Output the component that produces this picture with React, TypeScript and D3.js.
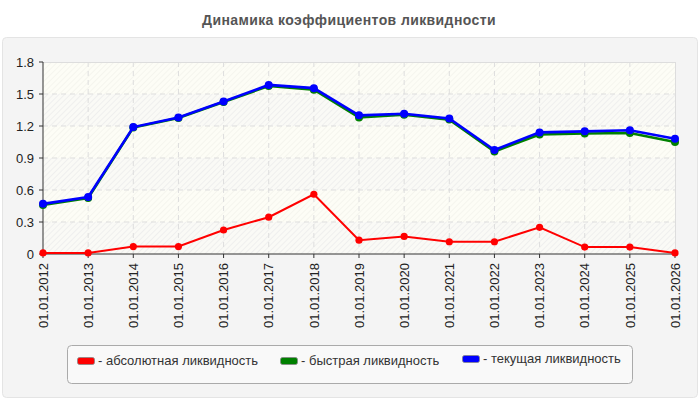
import * as d3 from "d3"

const years = [
  "01.01.2012", "01.01.2013", "01.01.2014", "01.01.2015", "01.01.2016",
  "01.01.2017", "01.01.2018", "01.01.2019", "01.01.2020", "01.01.2021",
  "01.01.2022", "01.01.2023", "01.01.2024", "01.01.2025", "01.01.2026",
]
const absolute = [0.01, 0.01, 0.07, 0.07, 0.225, 0.345, 0.56, 0.13, 0.165, 0.115, 0.115, 0.25, 0.065, 0.065, 0.01]
const quick = [0.46, 0.525, 1.185, 1.275, 1.425, 1.575, 1.54, 1.28, 1.305, 1.26, 0.96, 1.12, 1.13, 1.135, 1.05]
const current = [0.47, 0.535, 1.19, 1.28, 1.43, 1.585, 1.555, 1.3, 1.315, 1.27, 0.975, 1.14, 1.15, 1.16, 1.08]
const yTicks = [0, 0.3, 0.6, 0.9, 1.2, 1.5, 1.8]
const yTickLabels = ["0", "0.3", "0.6", "0.9", "1.2", "1.5", "1.8"]

const series = [
  { name: "- абсолютная ликвидность", values: absolute, color: "#ff0000", width: 2, r: 3.6 },
  { name: "- быстрая ликвидность", values: quick, color: "#008000", width: 2.6, r: 4 },
  { name: "- текущая ликвидность", values: current, color: "#0000ff", width: 2.6, r: 4 },
]

const W = 700
const H = 400
const margin = { left: 43, right: 675, top: 62, bottom: 254 }
const font = "'Liberation Sans', Arial, sans-serif"

export default function App() {
  const x = d3.scalePoint<string>().domain(years).range([margin.left, margin.right])
  const y = d3.scaleLinear().domain([0, 1.8]).range([margin.bottom, margin.top])
  const line = d3
    .line<number>()
    .x((_, i) => x(years[i])!)
    .y((d) => y(d))

  const bands = d3.pairs(yTicks)

  // legend item positions (swatch left edge)
  const legendX = [77, 280, 462]
  const legendY = [357, 357, 355]

  return (
    <div style={{ position: "absolute", left: 0, top: 0 }}>
      <svg width={W} height={H} style={{ display: "block", fontFamily: font }}>
        <defs>
          <pattern id="hatchA" width="4" height="4" patternUnits="userSpaceOnUse" patternTransform="rotate(45)">
            <rect width="4" height="4" fill="#fdfdf6" />
            <line x1="0" y1="0" x2="0" y2="4" stroke="#f1f1ea" strokeWidth="1.2" />
          </pattern>
          <pattern id="hatchB" width="4" height="4" patternUnits="userSpaceOnUse" patternTransform="rotate(45)">
            <rect width="4" height="4" fill="#fafaf6" />
            <line x1="0" y1="0" x2="0" y2="4" stroke="#e9e9e9" strokeWidth="1.2" />
          </pattern>
        </defs>
        <rect x={0} y={0} width={W} height={H} fill="#ffffff" />
        <text x={349} y={25} textAnchor="middle" fontSize={14} letterSpacing={0.4} fontWeight="bold" fill="#555555">
          Динамика коэффициентов ликвидности
        </text>
        <rect x={2.5} y={37.5} width={695} height={360} rx={4} fill="#f4f4f4" stroke="#e4e4e4" />

        {/* plot background bands */}
        {bands.map(([a, b], i) => (
          <rect
            key={i}
            x={margin.left}
            y={y(b)}
            width={margin.right - margin.left}
            height={y(a) - y(b)}
            fill={i % 2 === 0 ? "url(#hatchB)" : "url(#hatchA)"}
          />
        ))}

        {/* grid */}
        {yTicks.slice(1, -1).map((t) => (
          <line key={t} x1={margin.left} x2={margin.right} y1={y(t)} y2={y(t)} stroke="#dddddd" strokeDasharray="5,4" />
        ))}
        {years.slice(1, -1).map((yr) => (
          <line key={yr} x1={x(yr)} x2={x(yr)} y1={margin.top} y2={margin.bottom} stroke="#dddddd" strokeDasharray="5,4" />
        ))}
        <line x1={margin.left} x2={margin.right} y1={margin.top + 0.5} y2={margin.top + 0.5} stroke="#dddddd" />
        <line x1={margin.right + 0.5} x2={margin.right + 0.5} y1={margin.top} y2={margin.bottom} stroke="#dddddd" />

        {/* axes */}
        <line x1={margin.left} x2={margin.left} y1={margin.top} y2={margin.bottom} stroke="#333" />
        <line x1={margin.left} x2={margin.right} y1={margin.bottom} y2={margin.bottom} stroke="#333" />
        {yTicks.map((t, i) => (
          <g key={t}>
            <line x1={margin.left - 4} x2={margin.left} y1={y(t)} y2={y(t)} stroke="#333" />
            <text x={34} y={y(t)} dy="0.35em" textAnchor="end" fontSize={13} fill="#222">
              {yTickLabels[i]}
            </text>
          </g>
        ))}
        {years.map((yr) => (
          <g key={yr}>
            <line x1={x(yr)} x2={x(yr)} y1={margin.bottom} y2={margin.bottom + 4} stroke="#333" />
            <text
              transform={`translate(${x(yr)},${margin.bottom + 9}) rotate(-90)`}
              dy="0.36em"
              textAnchor="end"
              fontSize={13}
              fill="#222"
            >
              {yr}
            </text>
          </g>
        ))}

        {/* series */}
        {series.map((s) => (
          <g key={s.name}>
            <path d={line(s.values) || ""} fill="none" stroke={s.color} strokeWidth={s.width} />
            {s.values.map((v, i) => (
              <circle key={i} cx={x(years[i])} cy={y(v)} r={s.r} fill={s.color} />
            ))}
          </g>
        ))}

        {/* legend */}
        <rect x={67.5} y={345.5} width={565} height={38} rx={4} fill="#f9f9f9" stroke="#aaaaaa" />
        {series.map((s, i) => (
          <g key={s.name}>
            <rect x={legendX[i] + 0.5} y={legendY[i] + 0.5} width={17} height={7} rx={2} fill={s.color} stroke="#888" strokeWidth={0.8} />
            <text x={legendX[i] + 21} y={legendY[i] + 8} fontSize={13} fill="#333">
              {s.name}
            </text>
          </g>
        ))}
      </svg>
    </div>
  )
}
